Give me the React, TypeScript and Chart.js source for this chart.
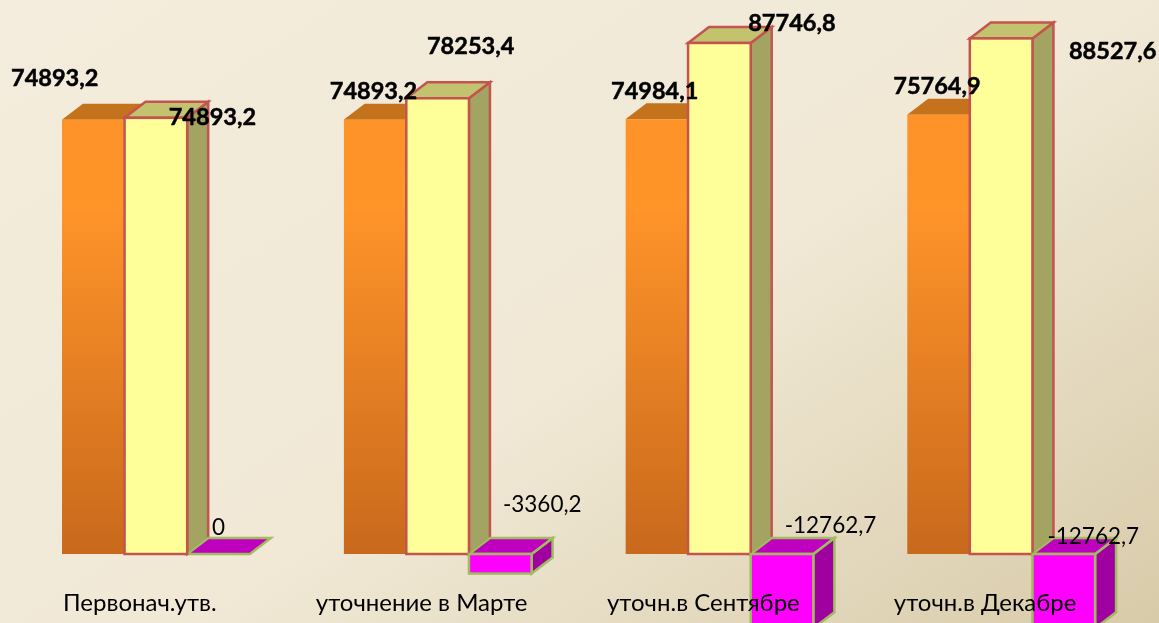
import React, { useEffect, useRef } from "react";
import { Chart, registerables } from "chart.js";

Chart.register(...registerables);

const categories = ["Первонач.утв.", "уточнение в Марте", "уточн.в Сентябре", "уточн.в Декабре"];
const approved = [74893.2, 74893.2, 74984.1, 75764.9];
const revised = [74893.2, 78253.4, 87746.8, 88527.6];
const difference = [0, -3360.2, -12762.7, -12762.7];

// label offsets from each bar's centre and top (px), per dataset and category
const labelOffsets = [
  [[-38.5, -39], [-1.5, -26], [-2, -26], [-1.5, -26]],
  [[56.5, 0], [33, -52], [72.5, -20], [111.5, 13.5]],
  [[0, -26], [42, -49], [48.5, -28], [29.5, -17]],
];
const faces = [
  { top: "#c4721c", side: "#c4721c", stroke: "rgba(0,0,0,0)", lw: 0, inset: 2 },
  { top: "#c3c26f", side: "#a3a362", stroke: "#c4544f", lw: 2.5, inset: 0 },
  { top: "#bf00bf", side: "#a000a0", stroke: "#9fbc5e", lw: 2.5, inset: 0 },
];
const DX = 21;
const DY = -16;

const fmt = (v: number) => (v === 0 ? "0" : v.toFixed(1).replace(".", ","));

const depthPlugin = {
  id: "depth",
  beforeDatasetsDraw(chart: any) {
    const ctx = chart.ctx;
    const poly = (pts: number[][], fill: string, st: any) => {
      ctx.beginPath();
      pts.forEach((p, i) => (i ? ctx.lineTo(p[0], p[1]) : ctx.moveTo(p[0], p[1])));
      ctx.closePath();
      ctx.fillStyle = fill;
      ctx.fill();
      if (st.lw) {
        ctx.strokeStyle = st.stroke;
        ctx.lineWidth = st.lw;
        ctx.lineJoin = "miter";
        ctx.stroke();
      }
    };
    ctx.save();
    chart.data.datasets.forEach((_: any, di: number) => {
      const st = faces[di];
      chart.getDatasetMeta(di).data.forEach((el: any) => {
        const p = el.getProps(["x", "y", "width", "base"], true);
        const l = p.x - p.width / 2;
        const r = p.x + p.width / 2;
        const t = Math.min(p.y, p.base) + st.inset;
        const b = Math.max(p.y, p.base);
        if (b > t) {
          poly([[r, t], [r + DX, t + DY], [r + DX, b + DY], [r, b]], st.side, st);
        }
        poly([[l, t], [l + DX, t + DY], [r + DX, t + DY], [r, t]], st.top, st);
      });
    });
    ctx.restore();
  },
  afterDatasetsDraw(chart: any) {
    const ctx = chart.ctx;
    ctx.save();
    [1, 2].forEach((di) => {
      const st = faces[di];
      chart.getDatasetMeta(di).data.forEach((el: any) => {
        const p = el.getProps(["x", "y", "width", "base"], true);
        if (p.y === p.base) return;
        ctx.strokeStyle = st.stroke;
        ctx.lineWidth = st.lw;
        ctx.strokeRect(p.x - p.width / 2, Math.min(p.y, p.base), p.width, Math.abs(p.base - p.y));
      });
    });
    ctx.textAlign = "center";
    ctx.textBaseline = "middle";
    ctx.fillStyle = "#000";
    ctx.strokeStyle = "#000";
    chart.data.datasets.forEach((ds: any, di: number) => {
      ctx.font = di < 2 ? "bold 23.5px Lato, 'Noto Sans', sans-serif" : "22.5px Lato, 'Noto Sans', sans-serif";
      chart.getDatasetMeta(di).data.forEach((el: any, i: number) => {
        const o = labelOffsets[di][i];
        const anchor = di < 2 ? el.y : el.base;
        ctx.fillText(fmt(ds.data[i]), el.x + o[0], anchor + o[1]);
        if (di < 2) {
          ctx.lineWidth = 0.5;
          ctx.strokeText(fmt(ds.data[i]), el.x + o[0], anchor + o[1]);
        }
      });
    });
    ctx.restore();
  },
};

export default function App() {
  const ref = useRef<HTMLCanvasElement>(null);
  useEffect(() => {
    document.body.style.margin = "0";
    const chart = new Chart(ref.current!, {
      type: "bar",
      plugins: [depthPlugin],
      data: {
        labels: categories,
        datasets: [
          {
            label: "Утверждено",
            data: approved,
            backgroundColor: (c: any) => {
              const g = c.chart.ctx.createLinearGradient(0, 118, 0, 554);
              g.addColorStop(0, "#fd9328");
              g.addColorStop(0.2, "#ff9429");
              g.addColorStop(1, "#c8691c");
              return g;
            },
            borderColor: "rgba(0,0,0,0)",
            borderWidth: { top: 2 },
            borderSkipped: false,
          },
          {
            label: "Уточнено",
            data: revised,
            backgroundColor: "#ffff99",
            borderWidth: 0,
          },
          {
            label: "Отклонение",
            data: difference,
            backgroundColor: "#ff00ff",
            borderWidth: 0,
          },
        ] as any,
      },
      options: {
        animation: false,
        responsive: false,
        layout: { padding: { left: 15, right: 17, top: 0, bottom: 0 } },
        plugins: { legend: { display: false }, tooltip: { enabled: false } },
        datasets: { bar: { barPercentage: 1, categoryPercentage: 0.667, clip: false } },
        scales: {
          x: {
            grid: { display: false },
            border: { display: false },
            afterFit: (s: any) => {
              s.height = 43;
            },
            ticks: {
              z: 1,
              color: "#000",
              maxRotation: 0,
              autoSkip: false,
              padding: 1,
              labelOffset: -16,
              font: { family: "Lato, 'Noto Sans', sans-serif", size: 24 },
            },
          },
          y: { display: false, min: -4464, max: 95124 },
        },
      } as any,
    });
    return () => chart.destroy();
  }, []);
  return (
    <div
      style={{
        width: 1159,
        height: 623,
        overflow: "hidden",
        background: "linear-gradient(147deg, #f4ecdc 0%, #f1e9d6 54%, #d8cba9 100%)",
      }}
    >
      <canvas ref={ref} width={1159} height={623} style={{ display: "block" }} />
    </div>
  );
}
